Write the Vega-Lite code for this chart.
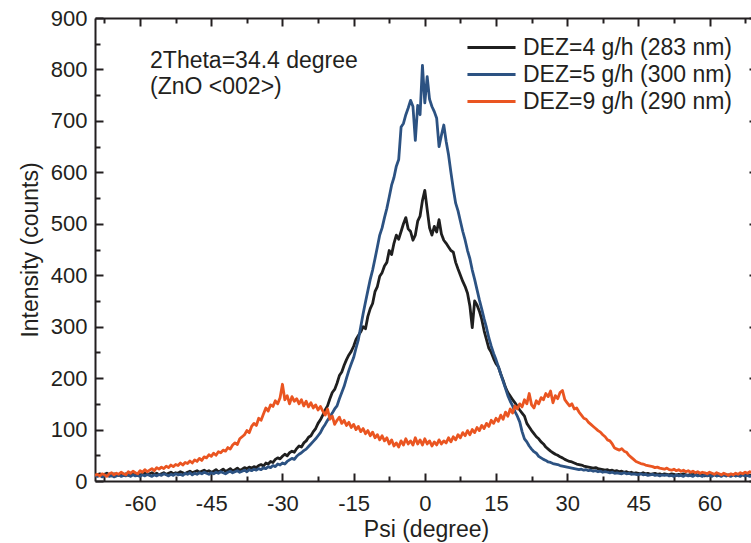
{
  "$schema": "https://vega.github.io/schema/vega-lite/v6.json",
  "width": 662,
  "height": 463,
  "autosize": {"type": "none"},
  "padding": {"left": 95, "top": 18, "right": 0, "bottom": 62},
  "background": "white",
  "config": {
    "view": {"stroke": null},
    "font": "Liberation Sans",
    "axis": {"domainColor": "#231f20", "tickColor": "#231f20", "labelColor": "#231f20", "titleColor": "#231f20", "domainWidth": 2, "tickWidth": 2, "grid": false, "labelFont": "Liberation Sans", "titleFont": "Liberation Sans", "titleFontWeight": "normal"}
  },
  "layer": [
    {
      "data": {"values": [
        {"x":-69.5,"a":13,"b":10,"c":11},
        {"x":-69,"a":12,"b":9,"c":13},
        {"x":-68.5,"a":14,"b":11,"c":10},
        {"x":-68,"a":11,"b":8,"c":14},
        {"x":-67.5,"a":13,"b":10,"c":12},
        {"x":-67,"a":15,"b":12,"c":9},
        {"x":-66.5,"a":12,"b":9,"c":14},
        {"x":-66,"a":10,"b":11,"c":16},
        {"x":-65.5,"a":14,"b":8,"c":12},
        {"x":-65,"a":13,"b":10,"c":15},
        {"x":-64.5,"a":11,"b":12,"c":13},
        {"x":-64,"a":15,"b":9,"c":17},
        {"x":-63.5,"a":12,"b":11,"c":14},
        {"x":-63,"a":14,"b":10,"c":12},
        {"x":-62.5,"a":11,"b":13,"c":18},
        {"x":-62,"a":13,"b":9,"c":15},
        {"x":-61.5,"a":15,"b":12,"c":19},
        {"x":-61,"a":12,"b":10,"c":16},
        {"x":-60.5,"a":14,"b":11,"c":14},
        {"x":-60,"a":11,"b":9,"c":20},
        {"x":-59.5,"a":13,"b":12,"c":17},
        {"x":-59,"a":15,"b":10,"c":22},
        {"x":-58.5,"a":12,"b":13,"c":18},
        {"x":-58,"a":14,"b":11,"c":21},
        {"x":-57.5,"a":16,"b":9,"c":24},
        {"x":-57,"a":13,"b":12,"c":20},
        {"x":-56.5,"a":15,"b":10,"c":26},
        {"x":-56,"a":12,"b":13,"c":23},
        {"x":-55.5,"a":14,"b":11,"c":27},
        {"x":-55,"a":16,"b":14,"c":24},
        {"x":-54.5,"a":13,"b":12,"c":29},
        {"x":-54,"a":15,"b":10,"c":26},
        {"x":-53.5,"a":17,"b":13,"c":31},
        {"x":-53,"a":14,"b":11,"c":28},
        {"x":-52.5,"a":16,"b":14,"c":32},
        {"x":-52,"a":15,"b":12,"c":30},
        {"x":-51.5,"a":18,"b":13,"c":35},
        {"x":-51,"a":16,"b":11,"c":31},
        {"x":-50.5,"a":14,"b":15,"c":36},
        {"x":-50,"a":17,"b":13,"c":34},
        {"x":-49.5,"a":19,"b":16,"c":39},
        {"x":-49,"a":16,"b":12,"c":35},
        {"x":-48.5,"a":18,"b":15,"c":41},
        {"x":-48,"a":20,"b":13,"c":38},
        {"x":-47.5,"a":17,"b":16,"c":44},
        {"x":-47,"a":19,"b":14,"c":40},
        {"x":-46.5,"a":21,"b":17,"c":47},
        {"x":-46,"a":18,"b":15,"c":45},
        {"x":-45.5,"a":20,"b":13,"c":51},
        {"x":-45,"a":17,"b":16,"c":48},
        {"x":-44.5,"a":19,"b":14,"c":54},
        {"x":-44,"a":22,"b":17,"c":50},
        {"x":-43.5,"a":18,"b":15,"c":57},
        {"x":-43,"a":20,"b":18,"c":55},
        {"x":-42.5,"a":23,"b":16,"c":60},
        {"x":-42,"a":19,"b":14,"c":58},
        {"x":-41.5,"a":21,"b":17,"c":65},
        {"x":-41,"a":24,"b":19,"c":62},
        {"x":-40.5,"a":20,"b":16,"c":70},
        {"x":-40,"a":22,"b":18,"c":74},
        {"x":-39.5,"a":25,"b":20,"c":71},
        {"x":-39,"a":21,"b":17,"c":82},
        {"x":-38.5,"a":23,"b":19,"c":86},
        {"x":-38,"a":26,"b":21,"c":90},
        {"x":-37.5,"a":24,"b":18,"c":98},
        {"x":-37,"a":27,"b":22,"c":94},
        {"x":-36.5,"a":25,"b":20,"c":106},
        {"x":-36,"a":28,"b":23,"c":112},
        {"x":-35.5,"a":26,"b":21,"c":108},
        {"x":-35,"a":30,"b":24,"c":122},
        {"x":-34.5,"a":32,"b":22,"c":118},
        {"x":-34,"a":29,"b":26,"c":130},
        {"x":-33.5,"a":35,"b":24,"c":142},
        {"x":-33,"a":33,"b":28,"c":136},
        {"x":-32.5,"a":38,"b":26,"c":148},
        {"x":-32,"a":36,"b":30,"c":145},
        {"x":-31.5,"a":42,"b":28,"c":156},
        {"x":-31,"a":45,"b":33,"c":150},
        {"x":-30.5,"a":43,"b":31,"c":162},
        {"x":-30,"a":48,"b":35,"c":188},
        {"x":-29.5,"a":52,"b":33,"c":158},
        {"x":-29,"a":49,"b":38,"c":166},
        {"x":-28.5,"a":55,"b":41,"c":150},
        {"x":-28,"a":58,"b":44,"c":164},
        {"x":-27.5,"a":56,"b":42,"c":155},
        {"x":-27,"a":63,"b":48,"c":160},
        {"x":-26.5,"a":68,"b":52,"c":150},
        {"x":-26,"a":66,"b":55,"c":158},
        {"x":-25.5,"a":74,"b":59,"c":146},
        {"x":-25,"a":78,"b":62,"c":155},
        {"x":-24.5,"a":85,"b":67,"c":144},
        {"x":-24,"a":88,"b":72,"c":152},
        {"x":-23.5,"a":96,"b":77,"c":142},
        {"x":-23,"a":102,"b":82,"c":148},
        {"x":-22.5,"a":112,"b":88,"c":138},
        {"x":-22,"a":119,"b":94,"c":145},
        {"x":-21.5,"a":128,"b":103,"c":136},
        {"x":-21,"a":138,"b":110,"c":128},
        {"x":-20.5,"a":146,"b":118,"c":140},
        {"x":-20,"a":160,"b":125,"c":120},
        {"x":-19.5,"a":172,"b":132,"c":126},
        {"x":-19,"a":178,"b":140,"c":110},
        {"x":-18.5,"a":190,"b":146,"c":118},
        {"x":-18,"a":205,"b":160,"c":124},
        {"x":-17.5,"a":212,"b":172,"c":112},
        {"x":-17,"a":225,"b":184,"c":118},
        {"x":-16.5,"a":236,"b":200,"c":108},
        {"x":-16,"a":245,"b":215,"c":114},
        {"x":-15.5,"a":252,"b":228,"c":104},
        {"x":-15,"a":262,"b":240,"c":110},
        {"x":-14.5,"a":275,"b":258,"c":100},
        {"x":-14,"a":283,"b":275,"c":106},
        {"x":-13.5,"a":290,"b":300,"c":96},
        {"x":-13,"a":300,"b":325,"c":102},
        {"x":-12.5,"a":296,"b":348,"c":92},
        {"x":-12,"a":320,"b":370,"c":98},
        {"x":-11.5,"a":335,"b":392,"c":88},
        {"x":-11,"a":345,"b":410,"c":95},
        {"x":-10.5,"a":368,"b":432,"c":84},
        {"x":-10,"a":378,"b":455,"c":90},
        {"x":-9.5,"a":398,"b":478,"c":80},
        {"x":-9,"a":405,"b":492,"c":88},
        {"x":-8.5,"a":418,"b":512,"c":78},
        {"x":-8,"a":425,"b":530,"c":84},
        {"x":-7.5,"a":448,"b":552,"c":72},
        {"x":-7,"a":440,"b":575,"c":80},
        {"x":-6.5,"a":462,"b":590,"c":68},
        {"x":-6,"a":478,"b":612,"c":74},
        {"x":-5.5,"a":470,"b":625,"c":66},
        {"x":-5,"a":485,"b":688,"c":78},
        {"x":-4.5,"a":500,"b":695,"c":70},
        {"x":-4,"a":512,"b":712,"c":82},
        {"x":-3.5,"a":490,"b":725,"c":72},
        {"x":-3,"a":485,"b":740,"c":78},
        {"x":-2.5,"a":468,"b":728,"c":70},
        {"x":-2,"a":478,"b":662,"c":84},
        {"x":-1.5,"a":505,"b":730,"c":72},
        {"x":-1,"a":515,"b":712,"c":80},
        {"x":-0.5,"a":545,"b":808,"c":70},
        {"x":0,"a":565,"b":735,"c":82},
        {"x":0.5,"a":528,"b":786,"c":72},
        {"x":1,"a":492,"b":742,"c":78},
        {"x":1.5,"a":478,"b":728,"c":68},
        {"x":2,"a":495,"b":718,"c":76},
        {"x":2.5,"a":484,"b":705,"c":70},
        {"x":3,"a":508,"b":650,"c":80},
        {"x":3.5,"a":480,"b":672,"c":72},
        {"x":4,"a":468,"b":692,"c":78},
        {"x":4.5,"a":462,"b":660,"c":74},
        {"x":5,"a":455,"b":634,"c":84},
        {"x":5.5,"a":448,"b":600,"c":76},
        {"x":6,"a":445,"b":568,"c":86},
        {"x":6.5,"a":425,"b":540,"c":80},
        {"x":7,"a":412,"b":525,"c":90},
        {"x":7.5,"a":400,"b":505,"c":84},
        {"x":8,"a":388,"b":485,"c":94},
        {"x":8.5,"a":378,"b":468,"c":88},
        {"x":9,"a":365,"b":448,"c":98},
        {"x":9.5,"a":340,"b":432,"c":90},
        {"x":10,"a":298,"b":410,"c":100},
        {"x":10.5,"a":350,"b":392,"c":94},
        {"x":11,"a":342,"b":372,"c":104},
        {"x":11.5,"a":330,"b":352,"c":98},
        {"x":12,"a":314,"b":334,"c":108},
        {"x":12.5,"a":292,"b":315,"c":102},
        {"x":13,"a":275,"b":298,"c":112},
        {"x":13.5,"a":258,"b":278,"c":106},
        {"x":14,"a":250,"b":262,"c":118},
        {"x":14.5,"a":238,"b":248,"c":112},
        {"x":15,"a":228,"b":236,"c":122},
        {"x":15.5,"a":222,"b":222,"c":116},
        {"x":16,"a":208,"b":208,"c":128},
        {"x":16.5,"a":196,"b":194,"c":120},
        {"x":17,"a":182,"b":180,"c":134},
        {"x":17.5,"a":172,"b":166,"c":126},
        {"x":18,"a":165,"b":155,"c":140},
        {"x":18.5,"a":158,"b":146,"c":132},
        {"x":19,"a":152,"b":135,"c":146},
        {"x":19.5,"a":145,"b":126,"c":140},
        {"x":20,"a":138,"b":115,"c":150},
        {"x":20.5,"a":132,"b":96,"c":144},
        {"x":21,"a":126,"b":82,"c":158},
        {"x":21.5,"a":112,"b":76,"c":150},
        {"x":22,"a":105,"b":68,"c":170},
        {"x":22.5,"a":98,"b":62,"c":148},
        {"x":23,"a":92,"b":57,"c":142},
        {"x":23.5,"a":86,"b":54,"c":156},
        {"x":24,"a":82,"b":48,"c":150},
        {"x":24.5,"a":76,"b":45,"c":162},
        {"x":25,"a":72,"b":42,"c":158},
        {"x":25.5,"a":66,"b":40,"c":170},
        {"x":26,"a":62,"b":37,"c":164},
        {"x":26.5,"a":58,"b":36,"c":175},
        {"x":27,"a":55,"b":34,"c":152},
        {"x":27.5,"a":52,"b":33,"c":166},
        {"x":28,"a":50,"b":32,"c":160},
        {"x":28.5,"a":47,"b":30,"c":172},
        {"x":29,"a":45,"b":29,"c":176},
        {"x":29.5,"a":42,"b":28,"c":158},
        {"x":30,"a":40,"b":27,"c":152},
        {"x":30.5,"a":38,"b":26,"c":146},
        {"x":31,"a":37,"b":25,"c":150},
        {"x":31.5,"a":35,"b":24,"c":140},
        {"x":32,"a":33,"b":23,"c":142},
        {"x":32.5,"a":32,"b":22,"c":134},
        {"x":33,"a":31,"b":23,"c":128},
        {"x":33.5,"a":29,"b":21,"c":122},
        {"x":34,"a":28,"b":22,"c":120},
        {"x":34.5,"a":27,"b":20,"c":114},
        {"x":35,"a":26,"b":21,"c":110},
        {"x":35.5,"a":25,"b":19,"c":106},
        {"x":36,"a":26,"b":20,"c":102},
        {"x":36.5,"a":24,"b":18,"c":98},
        {"x":37,"a":23,"b":19,"c":95},
        {"x":37.5,"a":22,"b":17,"c":90},
        {"x":38,"a":21,"b":18,"c":86},
        {"x":38.5,"a":22,"b":17,"c":80},
        {"x":39,"a":20,"b":16,"c":78},
        {"x":39.5,"a":21,"b":17,"c":72},
        {"x":40,"a":19,"b":15,"c":64},
        {"x":40.5,"a":20,"b":16,"c":62},
        {"x":41,"a":18,"b":15,"c":60},
        {"x":41.5,"a":19,"b":14,"c":63},
        {"x":42,"a":17,"b":16,"c":58},
        {"x":42.5,"a":18,"b":14,"c":56},
        {"x":43,"a":16,"b":15,"c":50},
        {"x":43.5,"a":17,"b":13,"c":46},
        {"x":44,"a":15,"b":14,"c":42},
        {"x":44.5,"a":16,"b":13,"c":38},
        {"x":45,"a":15,"b":12,"c":36},
        {"x":45.5,"a":14,"b":14,"c":34},
        {"x":46,"a":16,"b":12,"c":33},
        {"x":46.5,"a":14,"b":13,"c":31},
        {"x":47,"a":15,"b":11,"c":30},
        {"x":47.5,"a":13,"b":12,"c":29},
        {"x":48,"a":14,"b":13,"c":28},
        {"x":48.5,"a":15,"b":11,"c":26},
        {"x":49,"a":13,"b":12,"c":27},
        {"x":49.5,"a":14,"b":10,"c":25},
        {"x":50,"a":12,"b":12,"c":24},
        {"x":50.5,"a":14,"b":11,"c":23},
        {"x":51,"a":13,"b":12,"c":25},
        {"x":51.5,"a":12,"b":10,"c":22},
        {"x":52,"a":14,"b":11,"c":21},
        {"x":52.5,"a":13,"b":9,"c":23},
        {"x":53,"a":11,"b":12,"c":20},
        {"x":53.5,"a":13,"b":10,"c":22},
        {"x":54,"a":12,"b":11,"c":19},
        {"x":54.5,"a":14,"b":9,"c":21},
        {"x":55,"a":12,"b":12,"c":18},
        {"x":55.5,"a":11,"b":10,"c":20},
        {"x":56,"a":13,"b":11,"c":17},
        {"x":56.5,"a":12,"b":9,"c":19},
        {"x":57,"a":14,"b":12,"c":16},
        {"x":57.5,"a":11,"b":10,"c":18},
        {"x":58,"a":13,"b":11,"c":15},
        {"x":58.5,"a":12,"b":9,"c":17},
        {"x":59,"a":10,"b":12,"c":16},
        {"x":59.5,"a":13,"b":10,"c":14},
        {"x":60,"a":12,"b":11,"c":17},
        {"x":60.5,"a":11,"b":9,"c":15},
        {"x":61,"a":13,"b":12,"c":13},
        {"x":61.5,"a":10,"b":10,"c":16},
        {"x":62,"a":12,"b":11,"c":14},
        {"x":62.5,"a":11,"b":9,"c":12},
        {"x":63,"a":13,"b":12,"c":15},
        {"x":63.5,"a":10,"b":10,"c":13},
        {"x":64,"a":12,"b":11,"c":11},
        {"x":64.5,"a":11,"b":9,"c":14},
        {"x":65,"a":13,"b":12,"c":12},
        {"x":65.5,"a":10,"b":10,"c":15},
        {"x":66,"a":12,"b":11,"c":13},
        {"x":66.5,"a":11,"b":9,"c":16},
        {"x":67,"a":13,"b":12,"c":14},
        {"x":67.5,"a":10,"b":10,"c":17},
        {"x":68,"a":12,"b":11,"c":15},
        {"x":68.5,"a":11,"b":9,"c":18},
        {"x":69,"a":12,"b":10,"c":16},
        {"x":69.5,"a":11,"b":9,"c":20}
      ]},
      "transform": [{"fold": ["a", "b", "c"], "as": ["k", "v"]}],
      "mark": {"type": "line", "strokeWidth": 2.8, "clip": true, "strokeJoin": "round"},
      "encoding": {
        "x": {"field": "x", "type": "quantitative", "scale": {"domain": [-69.5, 70], "nice": false, "zero": false},
          "axis": {"orient": "bottom", "values": [-60, -45, -30, -15, 0, 15, 30, 45, 60], "tickSize": -8, "labelFontSize": 22, "labelPadding": 20, "labelExpr": "replace(datum.label, '\u2212', '-')", "title": "Psi (degree)", "titleFontSize": 23, "titlePadding": 4}},
        "y": {"field": "v", "type": "quantitative", "scale": {"domain": [0, 900], "nice": false, "zero": false},
          "axis": {"orient": "left", "values": [0, 100, 200, 300, 400, 500, 600, 700, 800, 900], "tickSize": -8, "labelFontSize": 22, "labelPadding": 16, "title": "Intensity (counts)", "titleFontSize": 23, "titlePadding": 8}},
        "color": {"field": "k", "type": "nominal",
          "scale": {"domain": ["a", "b", "c"], "range": ["#1f1f1f", "#2c5282", "#ea5521"]},
          "legend": {"orient": "none", "legendX": 382, "legendY": 15, "padding": 0, "title": null, "symbolType": "M-1.85,0H1.85", "symbolSize": 676, "symbolStrokeWidth": 3, "labelFontSize": 23, "labelFont": "Liberation Sans", "labelColor": "#231f20", "labelOffset": 17, "labelLimit": 400, "rowPadding": 0,
            "labelExpr": "datum.label == 'a' ? 'DEZ=4 g/h (283 nm)' : datum.label == 'b' ? 'DEZ=5 g/h (300 nm)' : 'DEZ=9 g/h (290 nm)'"}}
      }
    },
    {
      "data": {"values": [{}]},
      "mark": {"type": "point", "opacity": 0},
      "encoding": {
        "x": {"datum": 0, "type": "quantitative", "axis": {"orient": "bottom", "values": [-67.5, -52.5, -37.5, -22.5, -7.5, 7.5, 22.5, 37.5, 52.5, 67.5], "tickSize": -5, "labels": false, "domain": false, "title": null}},
        "y": {"datum": 0, "type": "quantitative", "axis": {"orient": "left", "values": [50, 150, 250, 350, 450, 550, 650, 750, 850], "tickSize": -5, "labels": false, "domain": false, "title": null}}
      }
    },
    {
      "data": {"values": [{}]},
      "mark": {"type": "point", "opacity": 0},
      "encoding": {
        "x": {"datum": 0, "type": "quantitative", "axis": {"orient": "top", "values": [-60, -45, -30, -15, 0, 15, 30, 45, 60], "tickSize": -8, "labels": false, "title": null}},
        "y": {"datum": 0, "type": "quantitative", "axis": {"orient": "right", "values": [0, 100, 200, 300, 400, 500, 600, 700, 800, 900], "tickSize": -8, "labels": false, "title": null}}
      }
    },
    {
      "data": {"values": [{}]},
      "mark": {"type": "point", "opacity": 0},
      "encoding": {
        "x": {"datum": 0, "type": "quantitative", "axis": {"orient": "top", "values": [-67.5, -52.5, -37.5, -22.5, -7.5, 7.5, 22.5, 37.5, 52.5, 67.5], "tickSize": -5, "labels": false, "domain": false, "title": null}},
        "y": {"datum": 0, "type": "quantitative", "axis": {"orient": "right", "values": [50, 150, 250, 350, 450, 550, 650, 750, 850], "tickSize": -5, "labels": false, "domain": false, "title": null}}
      }
    },
    {
      "data": {"values": [{}]},
      "mark": {"type": "text", "align": "left", "baseline": "middle", "fontSize": 23, "font": "Liberation Sans", "color": "#231f20", "lineBreak": "\n", "lineHeight": 26},
      "encoding": {
        "x": {"datum": -57.9, "type": "quantitative", "axis": null},
        "y": {"datum": 817, "type": "quantitative", "axis": null},
        "text": {"value": "2Theta=34.4 degree\n(ZnO <002>)"}
      }
    }
  ],
  "resolve": {"axis": {"x": "independent", "y": "independent"}}
}
